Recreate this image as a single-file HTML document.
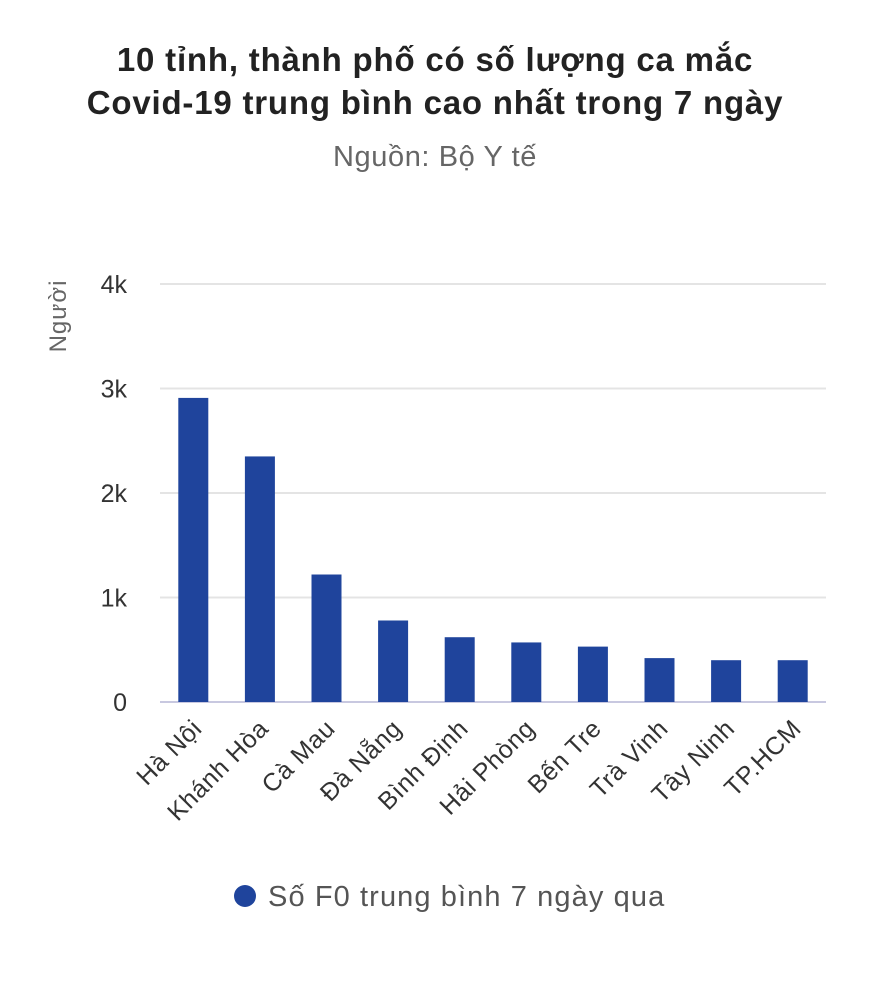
<!DOCTYPE html>
<html><head><meta charset="utf-8"><style>
body{margin:0;background:#fff;font-family:"Liberation Sans","DejaVu Sans",sans-serif;}
</style></head><body>
<svg width="870" height="1002" viewBox="0 0 870 1002">
<rect width="870" height="1002" fill="#fff"/>
<text x="435" y="71" text-anchor="middle" font-size="33" font-weight="bold" letter-spacing="0.8" fill="#222">10 tỉnh, thành phố có số lượng ca mắc</text>
<text x="435" y="114" text-anchor="middle" font-size="33" font-weight="bold" letter-spacing="0.8" fill="#222">Covid-19 trung bình cao nhất trong 7 ngày</text>
<text x="435" y="166" text-anchor="middle" font-size="29" letter-spacing="0.6" fill="#666">Nguồn: Bộ Y tế</text>
<text transform="translate(66,316) rotate(-90)" text-anchor="middle" font-size="24" letter-spacing="1" fill="#666">Người</text>
<g id="grid"></g><g id="bars"></g><g id="xlabels"></g>
<g>
<circle cx="245" cy="896" r="11" fill="#1f449c"/>
<text x="268" y="906" font-size="29" letter-spacing="1.1" fill="#555">Số F0 trung bình 7 ngày qua</text>
</g>
</svg>
<script>
const categories=["Hà Nội","Khánh Hòa","Cà Mau","Đà Nẵng","Bình Định","Hải Phòng","Bến Tre","Trà Vinh","Tây Ninh","TP.HCM"];
const values=[2910,2350,1220,780,620,570,530,420,400,400];
const yTicks=[0,1000,2000,3000,4000];
const yTickLabels=["0","1k","2k","3k","4k"];
const ns="http://www.w3.org/2000/svg";
const x0=160,x1=826,yB=702,yT=284,yMax=4000;
const y=v=>yB-(v/yMax)*(yB-yT);
const band=(x1-x0)/categories.length;
const xc=i=>x0+band*(i+0.5);
function mk(t,a,p){const e=document.createElementNS(ns,t);for(const k in a)e.setAttribute(k,a[k]);p.appendChild(e);return e;}
const g=document.getElementById('grid');
yTicks.forEach((t,i)=>{
 const l=mk('line',{x1:x0,x2:x1,y1:y(t),y2:y(t),stroke:i==0?'#c8c8e0':'#e4e4e4','stroke-width':2},g);
 
 
 const tx=mk('text',{x:127,y:y(t)+9,'text-anchor':'end','font-size':25,fill:'#333'},g);
 tx.textContent=yTickLabels[i];
 
 
});
const b=document.getElementById('bars'),xl=document.getElementById('xlabels');
categories.forEach((c,i)=>{
 const r=mk('rect',{x:xc(i)-15,width:30,y:y(values[i]),height:yB-y(values[i]),fill:'#1f449c'},b);
 
 
 const t=mk('text',{transform:`translate(${xc(i)+10},${yB+28}) rotate(-45)`,'text-anchor':'end','font-size':25,'letter-spacing':0.6,fill:'#333'},xl);
 t.textContent=c;
 
 
});
</script>
</body></html>
